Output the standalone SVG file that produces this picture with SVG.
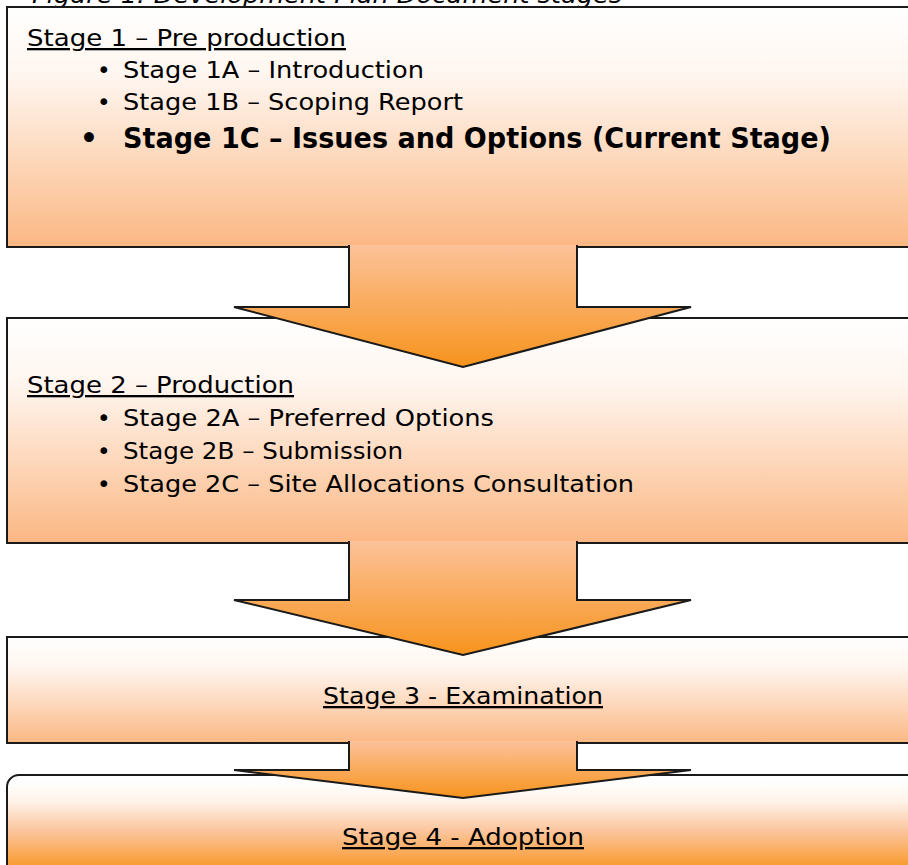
<svg xmlns="http://www.w3.org/2000/svg" width="908" height="865" viewBox="0 0 908 865">
<defs>
<linearGradient id="boxGrad" x1="0" y1="0" x2="0" y2="1">
<stop offset="0" stop-color="#ffffff"/>
<stop offset="0.3" stop-color="#fff5ee"/>
<stop offset="1" stop-color="#fbb783"/>
</linearGradient>
<linearGradient id="box4Grad" gradientUnits="userSpaceOnUse" x1="0" y1="780" x2="0" y2="865">
<stop offset="0" stop-color="#ffffff"/>
<stop offset="0.25" stop-color="#fff3ea"/>
<stop offset="0.6" stop-color="#fcc59c"/>
<stop offset="1" stop-color="#f99c33"/>
</linearGradient>
<linearGradient id="arrowGrad" x1="0" y1="0" x2="0" y2="1">
<stop offset="0" stop-color="#fcc29a"/>
<stop offset="1" stop-color="#f7931c"/>
</linearGradient>
<style>
.box{stroke:#1a1a1a;stroke-width:2;fill:url(#boxGrad)}
.arrow{stroke:#1a1a1a;stroke-width:2;fill:url(#arrowGrad);stroke-linejoin:miter}
.t{font-family:"DejaVu Sans","Liberation Sans",sans-serif;font-size:23px;fill:#000}
.h{text-decoration:underline}
.b{font-weight:bold;font-size:28px}
.cap{font-family:"DejaVu Sans","Liberation Sans",sans-serif;font-style:italic;font-size:23px;fill:#000}
</style>
</defs>
<text class="cap" x="32" y="3" textLength="590" lengthAdjust="spacingAndGlyphs">Figure 1: Development Plan Document stages</text>
<g id="stage1">
<rect class="box" x="7" y="7" width="915" height="240"/>
<text class="t h" x="27" y="46" textLength="319" lengthAdjust="spacingAndGlyphs">Stage 1 – Pre production</text>
<text class="t" x="97" y="78">•</text>
<text class="t" x="123" y="78" textLength="301" lengthAdjust="spacingAndGlyphs">Stage 1A – Introduction</text>
<text class="t" x="97" y="110">•</text>
<text class="t" x="123" y="110" textLength="340" lengthAdjust="spacingAndGlyphs">Stage 1B – Scoping Report</text>
<text class="t b" x="80" y="148">•</text>
<text class="t b" x="123" y="148" textLength="708" lengthAdjust="spacingAndGlyphs">Stage 1C – Issues and Options (Current Stage)</text>
</g>
<g id="stage2">
<rect class="box" x="7" y="318" width="915" height="225"/>
<text class="t h" x="27" y="393" textLength="267" lengthAdjust="spacingAndGlyphs">Stage 2 – Production</text>
<text class="t" x="97" y="426">•</text>
<text class="t" x="123" y="426" textLength="371" lengthAdjust="spacingAndGlyphs">Stage 2A – Preferred Options</text>
<text class="t" x="97" y="459">•</text>
<text class="t" x="123" y="459" textLength="280" lengthAdjust="spacingAndGlyphs">Stage 2B – Submission</text>
<text class="t" x="97" y="492">•</text>
<text class="t" x="123" y="492" textLength="511" lengthAdjust="spacingAndGlyphs">Stage 2C – Site Allocations Consultation</text>
</g>
<g id="stage3">
<rect class="box" x="7" y="637" width="915" height="106"/>
<text class="t h" x="323" y="704" textLength="280" lengthAdjust="spacingAndGlyphs">Stage 3 - Examination</text>
</g>
<g id="stage4">
<rect x="7" y="775" width="915" height="110" rx="12" ry="12" fill="url(#box4Grad)" stroke="#1a1a1a" stroke-width="2"/>
<text class="t h" x="342" y="845" textLength="242" lengthAdjust="spacingAndGlyphs">Stage 4 - Adoption</text>
</g>
<g id="connectors">
<path class="arrow" d="M349,245 L349,307 L234,307 L463,367 L691,307 L577,307 L577,245"/>
<path class="arrow" d="M349,541 L349,600 L234,600 L463,655 L691,600 L577,600 L577,541"/>
<path class="arrow" d="M349,741 L349,770 L234,770 L463,798 L691,770 L577,770 L577,741"/>
</g>
</svg>
